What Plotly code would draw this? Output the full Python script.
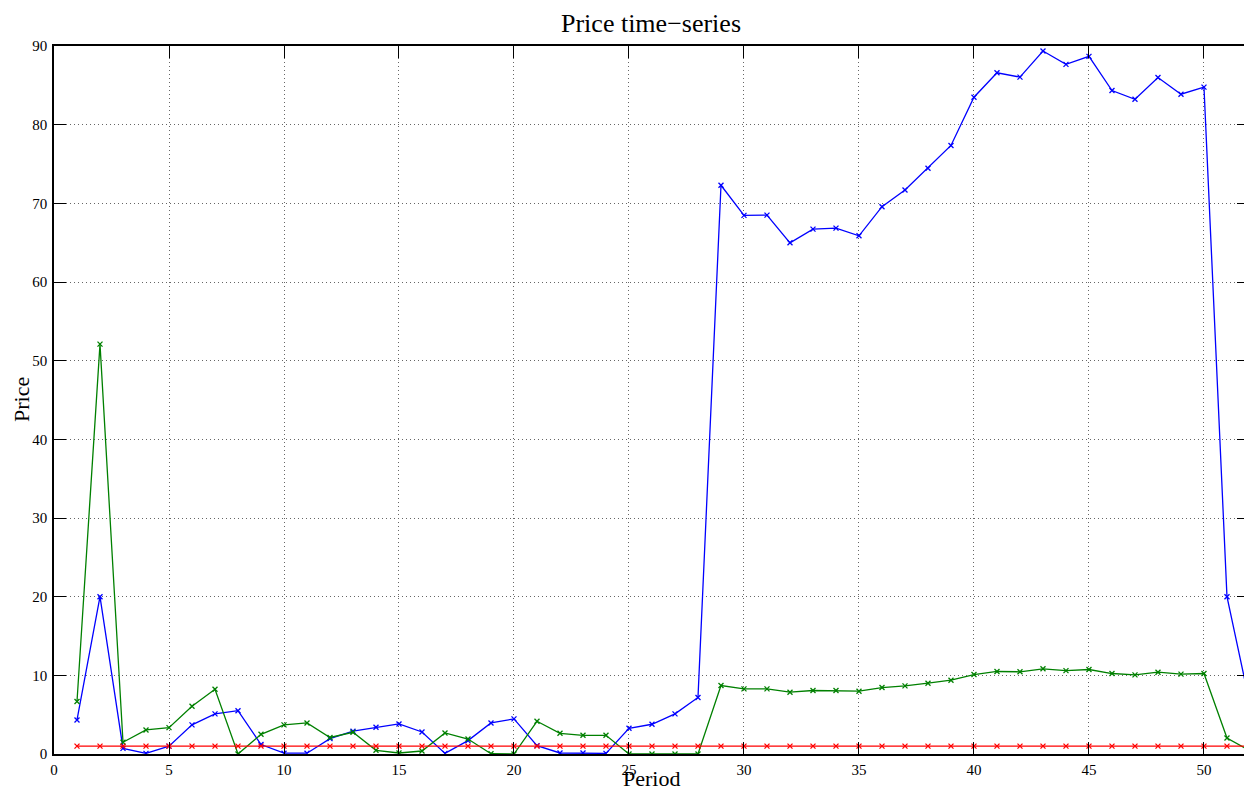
import plotly.graph_objects as go

period = list(range(1, 53))

blue_price = [4.33, 20.0, 0.72, 0.08, 1.0, 3.7, 5.1, 5.5, 1.2, 0.1,
              0.1, 1.95, 2.9, 3.4, 3.82, 2.8, 0.08, 1.7, 3.95, 4.46,
              1.06, 0.13, 0.13, 0.08, 3.27, 3.78, 5.1, 7.18, 72.3, 68.47,
              68.5, 64.98, 66.72, 66.85, 65.87, 69.57, 71.7, 74.47, 77.36, 83.49,
              86.6, 86.04, 89.36, 87.66, 88.68, 84.34, 83.23, 86.0, 83.87, 84.77,
              20.0, 6.3]

green_price = [6.67, 52.1, 1.49, 3.06, 3.35, 6.07, 8.24, 0.0, 2.5, 3.7,
               3.95, 2.1, 2.76, 0.47, 0.13, 0.38, 2.68, 1.9, 0.04, 0.0,
               4.16, 2.63, 2.38, 2.38, 0.0, 0.0, 0.0, 0.0, 8.7, 8.28,
               8.28, 7.86, 8.07, 8.07, 7.98, 8.45, 8.66, 9.0, 9.38, 10.1,
               10.49, 10.45, 10.83, 10.6, 10.74, 10.23, 10.06, 10.4, 10.15, 10.23,
               2.04, 0.42]

red_price = [1.0] * 52

x_ticks = [0, 5, 10, 15, 20, 25, 30, 35, 40, 45, 50]
y_ticks = [0, 10, 20, 30, 40, 50, 60, 70, 80, 90]

FONT = "Liberation Serif, Times New Roman, serif"

fig = go.Figure()
for name, vals, col in [("Series 1", blue_price, "#0000ff"),
                        ("Series 2", green_price, "#008000"),
                        ("Series 3", red_price, "#ff0000")]:
    fig.add_trace(go.Scatter(
        x=period, y=vals, mode="lines+markers", name=name,
        line=dict(color=col, width=1.3),
        marker=dict(symbol="x-thin", size=5, line=dict(color=col, width=1.3)),
        showlegend=False,
    ))

X_MAX = 51.74

fig.update_layout(
    width=1244, height=790,
    margin=dict(l=54, r=0, t=46, b=36),
    paper_bgcolor="white", plot_bgcolor="white",
    font=dict(family=FONT, size=14, color="black"),
    xaxis=dict(range=[0, X_MAX], tickvals=x_ticks, ticks="inside", ticklen=12,
               tickcolor="black", tickwidth=1, showline=True, linecolor="black",
               linewidth=1.5, mirror="ticks", showgrid=True, gridcolor="#666",
               griddash="1px,3px", gridwidth=1, zeroline=False,
               ticklabelstandoff=1,
               tickfont=dict(family=FONT, size=15)),
    yaxis=dict(range=[0, 90], tickvals=y_ticks, ticks="inside", ticklen=12,
               tickcolor="black", tickwidth=1, showline=True, linecolor="black",
               linewidth=1.5, showgrid=True, gridcolor="#666",
               griddash="1px,3px", gridwidth=1, zeroline=False,
               ticklabelstandoff=2,
               tickfont=dict(family=FONT, size=15)),
    yaxis2=dict(range=[0, 90], tickvals=y_ticks, overlaying="y", side="right",
                ticks="inside", ticklen=7, tickcolor="black", tickwidth=1,
                showline=False, showgrid=False, zeroline=False,
                showticklabels=False),
    annotations=[
        dict(text="Price time\u2212series", xref="paper", yref="paper",
             x=0.502, y=1, yshift=23, xanchor="center", yanchor="middle",
             showarrow=False, font=dict(family=FONT, size=26)),
        dict(text="Price", xref="paper", yref="paper", x=0, xshift=-33,
             y=0.5, textangle=-90, xanchor="center", yanchor="middle",
             showarrow=False, font=dict(family=FONT, size=22)),
        dict(text="Period", xref="paper", yref="paper", x=0.502, y=0,
             yshift=-24, xanchor="center", yanchor="middle",
             showarrow=False, font=dict(family=FONT, size=22)),
    ],
)

# invisible helper so the right-side mirrored tick axis is rendered
fig.add_trace(go.Scatter(x=[None], y=[None], yaxis="y2", showlegend=False,
                         hoverinfo="skip"))

fig.write_html("out.html")
